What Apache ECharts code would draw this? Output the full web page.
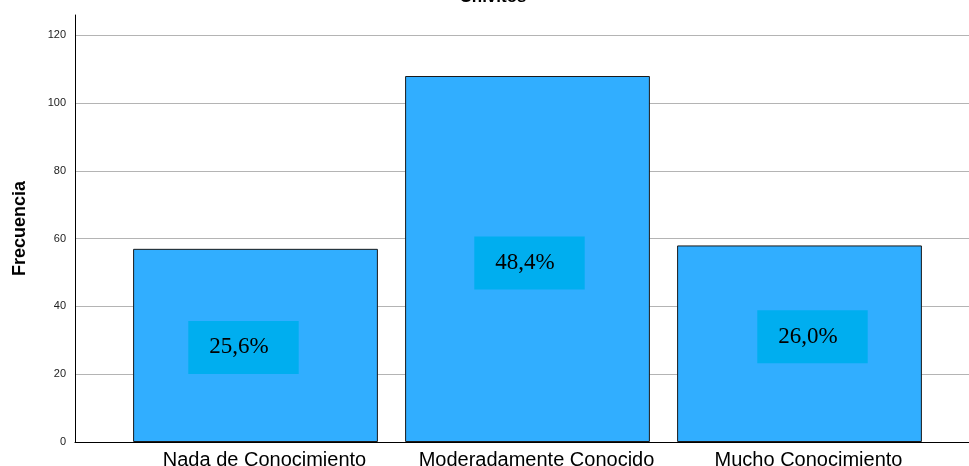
<!DOCTYPE html>
<html><head><meta charset="utf-8">
<script src="https://cdn.jsdelivr.net/npm/echarts@6/dist/echarts.min.js"></script>
<style>html,body{margin:0;padding:0;background:#fff}#c{width:969px;height:466px}</style>
</head><body><div id="c"></div>
<script>
const titleText = 'Chivitos';
const yAxisName = 'Frecuencia';
const categories = ['Nada de Conocimiento', 'Moderadamente Conocido', 'Mucho Conocimiento'];
const frequencies = [57, 108, 58];
const yTicks = { min: 0, max: 126, interval: 20 };
const labelOffsets = [[-12, 2], [2, 4], [13, -7]];

const total = frequencies.reduce((a, b) => a + b, 0);
const pct = v => (v / total * 100).toFixed(1).replace('.', ',') + '%';

const chart = echarts.init(document.getElementById('c'));
chart.setOption({
  animation: false,
  title: { text: titleText, left: 488, textAlign: 'center', top: -16,
    textStyle: { fontFamily: 'Liberation Sans', fontWeight: 'bold', fontSize: 17, color: '#000' } },
  grid: [
    { left: 75, right: 0, top: 15, bottom: 24, outerBoundsMode: 'none', containLabel: false },
    { left: 119.5, right: 33.5, top: 15, bottom: 24, outerBoundsMode: 'none', containLabel: false }
  ],
  xAxis: [
    { gridIndex: 0, type: 'category', data: categories, axisLabel: { show: false }, axisTick: { show: false },
      axisLine: { lineStyle: { color: '#000', width: 1 } } },
    { gridIndex: 1, type: 'category', data: categories, axisTick: { show: false }, axisLine: { show: false },
      axisLabel: { color: '#000', fontFamily: 'Liberation Sans', fontSize: 20, margin: 8, interval: 0,
        padding: [0, 0, 0, 18] } }
  ],
  yAxis: [
    { gridIndex: 0, type: 'value', min: yTicks.min, max: yTicks.max, interval: yTicks.interval,
      name: yAxisName, nameLocation: 'middle', nameGap: 46, nameRotate: 90,
      nameTextStyle: { fontFamily: 'Liberation Sans', fontWeight: 'bold', fontSize: 18, color: '#000' },
      axisLine: { show: true, lineStyle: { color: '#000', width: 1 } },
      axisTick: { show: false },
      axisLabel: { showMaxLabel: false, color: '#222', fontFamily: 'Liberation Sans', fontSize: 11, margin: 9 },
      splitLine: { show: true, showMaxLine: false, lineStyle: { color: '#b4b4b4', width: 1 } } },
    { gridIndex: 1, type: 'value', min: yTicks.min, max: yTicks.max, interval: yTicks.interval, show: false,
      splitLine: { show: false } }
  ],
  series: [{
    type: 'bar', xAxisIndex: 1, yAxisIndex: 1, barCategoryGap: '10%',
    data: frequencies.map((v, i) => ({ value: v, label: { offset: labelOffsets[i] } })),
    itemStyle: { color: '#31aeff', borderColor: '#1a1a1a', borderWidth: 1 },
    label: { show: true, position: 'inside', formatter: p => pct(p.value),
      backgroundColor: '#00aeef', padding: [15, 30, 15, 21], color: '#000',
      fontFamily: 'Liberation Serif', fontSize: 23 }
  }]
});
</script></body></html>
